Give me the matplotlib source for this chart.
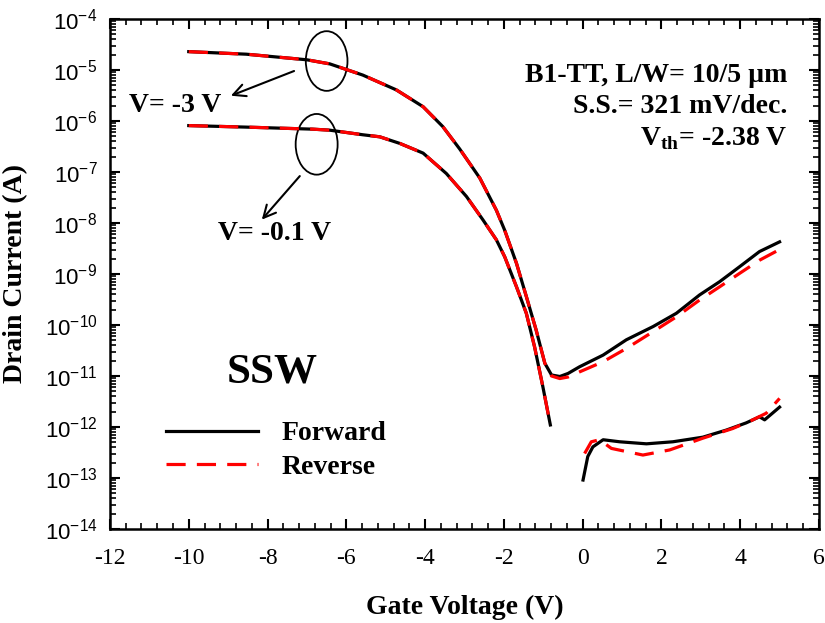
import matplotlib
matplotlib.use("Agg")
import matplotlib.pyplot as plt
import numpy as np
from matplotlib.patches import Ellipse
from matplotlib.ticker import MultipleLocator, LogLocator, NullFormatter, FuncFormatter

plt.rcParams['font.family'] = 'Liberation Serif'
plt.rcParams['axes.unicode_minus'] = False
plt.rcParams['mathtext.fontset'] = 'custom'
plt.rcParams['mathtext.rm'] = 'Liberation Sans'
plt.rcParams['mathtext.bf'] = 'Liberation Serif:bold'

# V = -3 V branch (log10 of drain current)
vg_hi_fwd = [-10, -8.54, -7.0, -6.42, -5.58, -4.73, -4.05, -3.55, -3.12, -2.61, -2.19, -1.98,
             -1.68, -1.43, -1.18, -0.96, -0.79, -0.58, -0.37, -0.08, 0.52, 1.11, 1.79, 2.38,
             2.97, 3.48, 3.98, 4.49, 5.0]
log_hi_fwd = [-4.64, -4.69, -4.80, -4.88, -5.10, -5.39, -5.72, -6.11, -6.55, -7.12, -7.75, -8.14,
              -8.79, -9.44, -10.10, -10.75, -10.98, -11.01, -10.95, -10.82, -10.59, -10.29, -10.03, -9.77,
              -9.41, -9.15, -8.86, -8.56, -8.37]
vg_hi_rev = [-10, -8.54, -7.0, -6.42, -5.58, -4.73, -4.05, -3.55, -3.12, -2.61, -2.19, -1.98,
             -1.68, -1.43, -1.18, -0.96, -0.79, -0.58, -0.37, -0.08, 0.52, 1.11, 1.79, 2.38,
             2.97, 3.48, 3.98, 4.49, 5.0]
log_hi_rev = [-4.64, -4.69, -4.80, -4.88, -5.10, -5.39, -5.72, -6.11, -6.55, -7.12, -7.75, -8.14,
              -8.79, -9.44, -10.10, -10.75, -11.00, -11.05, -11.02, -10.92, -10.72, -10.46, -10.13, -9.84,
              -9.51, -9.25, -8.99, -8.73, -8.52]

# V = -0.1 V branch
vg_lo = [-10, -8.54, -6.85, -6.42, -5.58, -5.15, -4.64, -4.05, -3.46, -2.95, -2.53, -2.19,
         -1.98, -1.68, -1.43, -1.22, -1.01, -0.82]
log_lo = [-6.09, -6.12, -6.16, -6.18, -6.27, -6.31, -6.44, -6.63, -7.03, -7.48, -7.94, -8.33,
          -8.66, -9.25, -9.77, -10.43, -11.21, -11.96]

# V = -0.1 V, positive gate side
vg_lo2_fwd = [0.01, 0.13, 0.26, 0.52, 0.94, 1.62, 2.29, 3.05, 3.65, 4.15, 4.49, 4.62, 5.0]
log_lo2_fwd = [-13.04, -12.58, -12.39, -12.25, -12.29, -12.33, -12.29, -12.20, -12.06, -11.92,
               -11.80, -11.86, -11.61]
vg_lo2_rev = [0.05, 0.22, 0.43, 0.73, 1.53, 2.21, 3.05, 3.81, 4.32, 4.66, 5.0]
log_lo2_rev = [-12.52, -12.29, -12.25, -12.42, -12.55, -12.45, -12.22, -12.03, -11.86, -11.73, -11.44]

fig = plt.figure(figsize=(8.25, 6.23), dpi=100)
ax = fig.add_axes([0.1333, 0.1509, 0.8594, 0.8186])

lw = 2.3
dash = (6, 3.5)
fwd, = ax.plot(vg_hi_fwd, 10 ** np.array(log_hi_fwd), color='black', lw=lw, zorder=2)
ax.plot(vg_lo, 10 ** np.array(log_lo), color='black', lw=lw, zorder=2)
ax.plot(vg_lo2_fwd, 10 ** np.array(log_lo2_fwd), color='black', lw=lw, zorder=2)
rev, = ax.plot(vg_hi_rev, 10 ** np.array(log_hi_rev), color='red', lw=lw, dashes=dash, zorder=3)
ax.plot(vg_lo, 10 ** np.array(log_lo), color='red', lw=lw, dashes=dash, zorder=3)
ax.plot(vg_lo2_rev, 10 ** np.array(log_lo2_rev), color='red', lw=lw, dashes=dash, zorder=3)

ax.set_yscale('log')
ax.set_xlim(-12, 6)
ax.set_ylim(1e-14, 1e-4)

ax.xaxis.set_major_locator(MultipleLocator(2))
ax.xaxis.set_minor_locator(MultipleLocator(0.4))
ax.yaxis.set_major_locator(LogLocator(base=10, numticks=20))
ax.yaxis.set_minor_locator(LogLocator(base=10, subs=np.arange(2, 10), numticks=20))
ax.yaxis.set_minor_formatter(NullFormatter())
ax.yaxis.set_major_formatter(FuncFormatter(lambda v, p: r'$\mathrm{10^{%d}}$' % round(np.log10(v))))

ax.tick_params(which='both', direction='in', top=True, right=True)
ax.tick_params(which='major', length=7, width=1.5)
ax.tick_params(which='minor', length=4, width=1.2)
ax.tick_params(axis='x', labelsize=17, pad=14)
ax.tick_params(axis='y', labelsize=16, pad=9)
for s in ax.spines.values():
    s.set_linewidth(1.8)

ax.set_xlabel('Gate Voltage (V)', fontsize=20, fontweight='bold', labelpad=18)
ax.set_ylabel('Drain Current (A)', fontsize=20, fontweight='bold', labelpad=12)

# annotations
tb = dict(fontsize=20, fontweight='bold', transform=ax.transAxes)
ax.text(0.956, 0.8765, u'B1-TT, L/W= 10/5 \u00b5m', ha='right', va='baseline', **tb)
ax.text(0.956, 0.8157, 'S.S.= 321 mV/dec.', ha='right', va='baseline', **tb)
ax.text(0.956, 0.7529, r'V$_{\mathbf{th}}$= -2.38 V', ha='right', va='baseline', **tb)
ax.text(0.0917, 0.831, 'V= -3 V', ha='center', va='center', **tb)
ax.text(0.2327, 0.580, 'V= -0.1 V', ha='center', va='center', **tb)
ax.text(0.2285, 0.306, 'SSW', ha='center', va='center', fontsize=31, fontweight='bold',
        transform=ax.transAxes)

ax.add_patch(Ellipse((0.3056, 0.9176), 0.0588, 0.117, transform=ax.transAxes,
                     fill=False, lw=1.3, color='black'))
ax.add_patch(Ellipse((0.2915, 0.7543), 0.0592, 0.119, transform=ax.transAxes,
                     fill=False, lw=1.3, color='black'))
arrow = dict(arrowstyle='->', lw=1.5, color='black', mutation_scale=22)
ax.annotate('', xy=(0.1669, 0.8476), xytext=(0.2633, 0.9), xycoords='axes fraction',
            textcoords='axes fraction', arrowprops=arrow)
ax.annotate('', xy=(0.2116, 0.6025), xytext=(0.2703, 0.6961), xycoords='axes fraction',
            textcoords='axes fraction', arrowprops=arrow)

ax.legend([fwd, rev], ['Forward', 'Reverse'], frameon=False, loc='upper left',
          bbox_to_anchor=(0.079, 0.2118), borderaxespad=0, borderpad=0, handlelength=3.3,
          handletextpad=0.85, labelspacing=0.3, prop=dict(weight='bold', size=20))

fig.savefig('out.png', dpi=100)
